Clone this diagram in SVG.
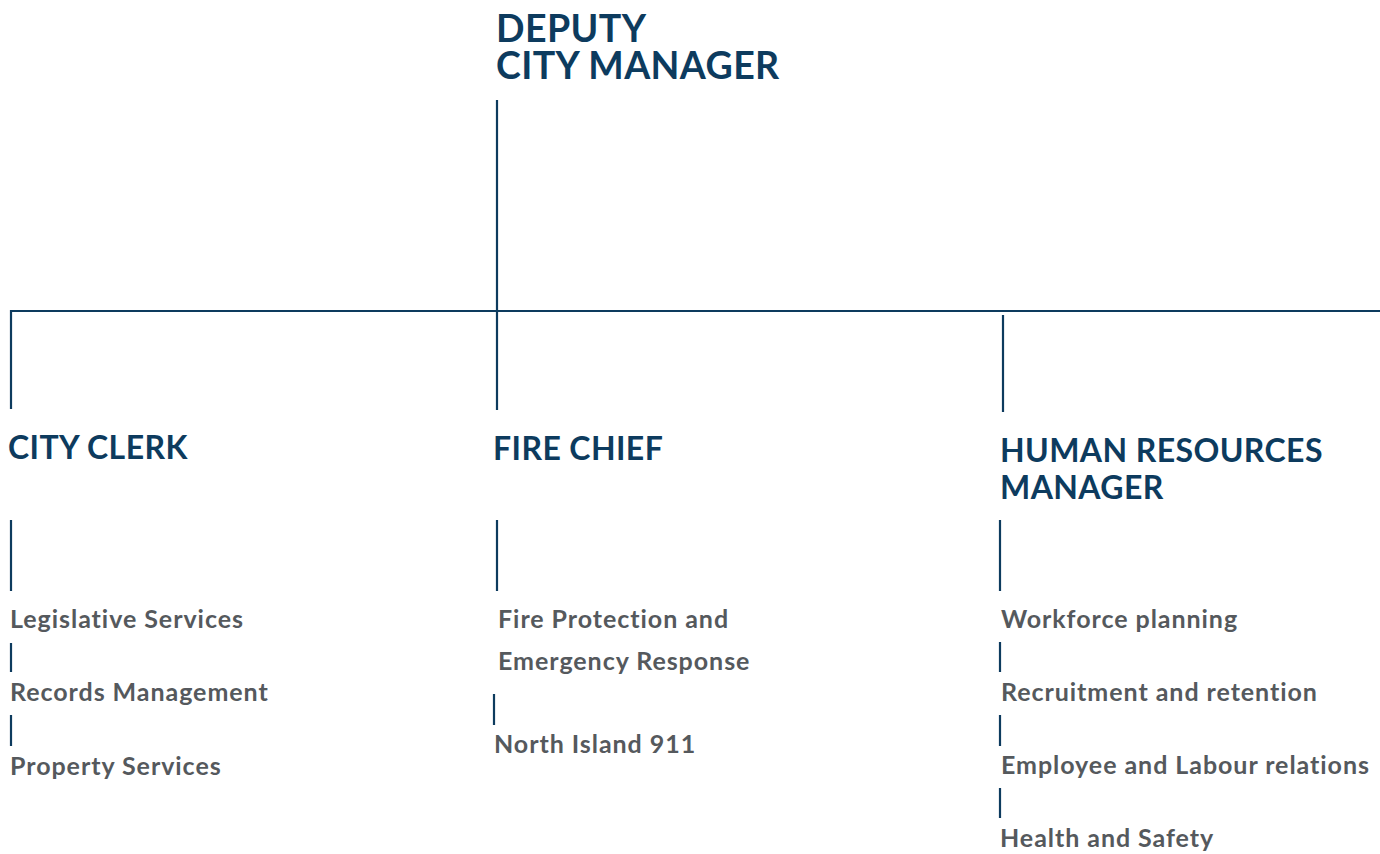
<svg xmlns="http://www.w3.org/2000/svg" width="1380" height="854" viewBox="0 0 1380 854">
  <style>
    .title { font-family: "Lato", "Liberation Sans", sans-serif; font-weight: 700; fill: #0d3b5e; letter-spacing: 0.4px; }
    .item { font-family: "Lato", "Liberation Sans", sans-serif; font-weight: 700; font-size: 25px; fill: #55595d; letter-spacing: 0.95px; }
    .ln { stroke: #0d3b5e; stroke-width: 2.2; fill: none; }
  </style>
  <rect width="1380" height="854" fill="#ffffff"/>
  <g id="connectors">
    <line class="ln" x1="497" y1="100" x2="497" y2="410"/>
    <line class="ln" x1="10" y1="311" x2="1380" y2="311"/>
    <line class="ln" x1="11" y1="310" x2="11" y2="409"/>
    <line class="ln" x1="1003" y1="315" x2="1003" y2="412"/>
    <line class="ln" x1="11" y1="520" x2="11" y2="591"/>
    <line class="ln" x1="11" y1="643" x2="11" y2="672"/>
    <line class="ln" x1="11" y1="715" x2="11" y2="746"/>
    <line class="ln" x1="497" y1="520" x2="497" y2="591"/>
    <line class="ln" x1="494" y1="694" x2="494" y2="725"/>
    <line class="ln" x1="1000" y1="520" x2="1000" y2="591"/>
    <line class="ln" x1="1000" y1="642" x2="1000" y2="672"/>
    <line class="ln" x1="1000" y1="715" x2="1000" y2="746"/>
    <line class="ln" x1="1000" y1="788" x2="1000" y2="818"/>
  </g>
  <g id="deputy-city-manager">
    <text class="title" font-size="37.5"><tspan x="496" y="42">DEPUTY</tspan><tspan x="496" y="79">CITY MANAGER</tspan></text>
  </g>
  <g id="city-clerk">
    <text class="title" x="8" y="459" font-size="32">CITY CLERK</text>
    <text class="item" x="10" y="628">Legislative Services</text>
    <text class="item" x="10" y="701">Records Management</text>
    <text class="item" x="10" y="775">Property Services</text>
  </g>
  <g id="fire-chief">
    <text class="title" x="493" y="460" font-size="32">FIRE CHIEF</text>
    <text class="item" x="498" y="628">Fire Protection and</text>
    <text class="item" x="498" y="670">Emergency Response</text>
    <text class="item" x="494" y="753">North Island 911</text>
  </g>
  <g id="human-resources-manager">
    <text class="title" font-size="32"><tspan x="1000" y="462">HUMAN RESOURCES</tspan><tspan x="1000" y="499">MANAGER</tspan></text>
    <text class="item" x="1001" y="628">Workforce planning</text>
    <text class="item" x="1001" y="701">Recruitment and retention</text>
    <text class="item" x="1001" y="774">Employee and Labour relations</text>
    <text class="item" x="1000" y="847">Health and Safety</text>
  </g>
</svg>
